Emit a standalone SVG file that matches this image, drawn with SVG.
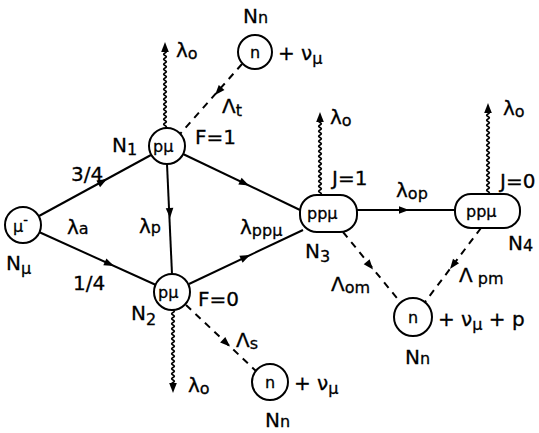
<svg xmlns="http://www.w3.org/2000/svg" xmlns:xlink="http://www.w3.org/1999/xlink" width="539" height="433" viewBox="0 0 539 433">
<style>
.nd{fill:#fff;stroke:#000;stroke-width:2}
.ln{fill:none;stroke:#000;stroke-width:2}
.ds{fill:none;stroke:#000;stroke-width:2;stroke-dasharray:7 6}
.wv{fill:none;stroke:#000;stroke-width:1.8}
text{font-family:"DejaVu Sans","Liberation Sans",sans-serif;font-size:20px;fill:#000;stroke:#000;stroke-width:0.3}
.in{font-size:16px}
.sb{font-size:16px}
</style>
<defs>
<path id="ah" d="M0,0 L-10,-3.8 L-10,3.8 Z" fill="#000"/>
</defs>
<rect width="539" height="433" fill="#fff"/>
<g id="connectors">
<path class="ln" d="M39,216 L151,155"/>
<path class="ln" d="M39,232 L156,285"/>
<path class="ln" d="M167,164 L172,274"/>
<path class="ln" d="M183,154 L300,210"/>
<path class="ln" d="M189,284 L303,230"/>
<path class="ln" d="M357,210 L455,210"/>
<path class="ds" d="M242,64 L180,134"/>
<path class="ds" d="M186,305 L256,371"/>
<path class="ds" d="M343,232 L401,303"/>
<path class="ds" d="M481,228 L425,302"/>
<path class="wv" d="M165,128 q2.5,-1.25 0,-2.5 t0,-2.5 t0,-2.5 t0,-2.5 t0,-2.5 t0,-2.5 t0,-2.5 t0,-2.5 t0,-2.5 t0,-2.5 t0,-2.5 t0,-2.5 t0,-2.5 t0,-2.5 t0,-2.5 t0,-2.5 t0,-2.5 t0,-2.5 t0,-2.5 t0,-2.5 t0,-2.5 t0,-2.5 t0,-2.5 t0,-2.5 t0,-2.5 t0,-2.5 t0,-2.5 t0,-2.5 t0,-2.5 t0,-2.5 t0,-2.5 t0,-2.5"/>
<path class="wv" d="M173,310 q2.5,1.25 0,2.5 t0,2.5 t0,2.5 t0,2.5 t0,2.5 t0,2.5 t0,2.5 t0,2.5 t0,2.5 t0,2.5 t0,2.5 t0,2.5 t0,2.5 t0,2.5 t0,2.5 t0,2.5 t0,2.5 t0,2.5 t0,2.5 t0,2.5 t0,2.5 t0,2.5 t0,2.5 t0,2.5 t0,2.5 t0,2.5 t0,2.5 t0,2.5 t0,2.5 t0,2.5"/>
<path class="wv" d="M320,195 q2.5,-1.25 0,-2.5 t0,-2.5 t0,-2.5 t0,-2.5 t0,-2.5 t0,-2.5 t0,-2.5 t0,-2.5 t0,-2.5 t0,-2.5 t0,-2.5 t0,-2.5 t0,-2.5 t0,-2.5 t0,-2.5 t0,-2.5 t0,-2.5 t0,-2.5 t0,-2.5 t0,-2.5 t0,-2.5 t0,-2.5 t0,-2.5 t0,-2.5 t0,-2.5 t0,-2.5 t0,-2.5 t0,-2.5 t0,-2.5 t0,-2.5 t0,-2.5"/>
<path class="wv" d="M488,194 q2.5,-1.25 0,-2.5 t0,-2.5 t0,-2.5 t0,-2.5 t0,-2.5 t0,-2.5 t0,-2.5 t0,-2.5 t0,-2.5 t0,-2.5 t0,-2.5 t0,-2.5 t0,-2.5 t0,-2.5 t0,-2.5 t0,-2.5 t0,-2.5 t0,-2.5 t0,-2.5 t0,-2.5 t0,-2.5 t0,-2.5 t0,-2.5 t0,-2.5 t0,-2.5 t0,-2.5 t0,-2.5 t0,-2.5 t0,-2.5 t0,-2.5 t0,-2.5 t0,-2.5 t0,-2.5 t0,-2.5"/>
<use xlink:href="#ah" transform="translate(107,179) rotate(-28.8)"/>
<use xlink:href="#ah" transform="translate(114,266) rotate(24.2)"/>
<use xlink:href="#ah" transform="translate(170,218) rotate(87.4)"/>
<use xlink:href="#ah" transform="translate(249,185.5) rotate(25.6)"/>
<use xlink:href="#ah" transform="translate(250,255) rotate(-25.3)"/>
<use xlink:href="#ah" transform="translate(409,210) rotate(0)"/>
<use xlink:href="#ah" transform="translate(215,95) rotate(131.5)"/>
<use xlink:href="#ah" transform="translate(230,346.5) rotate(43.3)"/>
<use xlink:href="#ah" transform="translate(373,269.5) rotate(50.8)"/>
<use xlink:href="#ah" transform="translate(450,269) rotate(127)"/>
<use xlink:href="#ah" transform="translate(165,42) rotate(-90)"/>
<use xlink:href="#ah" transform="translate(173,393) rotate(90)"/>
<use xlink:href="#ah" transform="translate(320,112) rotate(-90)"/>
<use xlink:href="#ah" transform="translate(488,103) rotate(-90)"/>
</g>
<g id="n-mu">
<circle class="nd" cx="23" cy="225" r="18"/>
<text class="in" x="13" y="232">μ<tspan font-size="13" dy="-8">-</tspan></text>
<text x="6" y="270">N<tspan class="sb" dy="4">μ</tspan></text>
</g>
<g id="n1">
<circle class="nd" cx="167" cy="146" r="18"/>
<text class="in" x="153" y="152">pμ</text>
<text x="112" y="152">N<tspan class="sb" dy="3">1</tspan></text>
<text x="195" y="144">F=1</text>
</g>
<g id="n2">
<circle class="nd" cx="172" cy="292" r="18"/>
<text class="in" x="158" y="298">pμ</text>
<text x="131" y="320">N<tspan class="sb" dy="5">2</tspan></text>
<text x="198" y="306">F=0</text>
</g>
<g id="n3">
<rect class="nd" x="300" y="195" width="57" height="37" rx="17"/>
<text class="in" x="307" y="219">ppμ</text>
<text x="305" y="258">N<tspan class="sb" dy="4">3</tspan></text>
<text x="332" y="185">J=1</text>
</g>
<g id="n4">
<rect class="nd" x="455" y="194" width="65" height="34" rx="16"/>
<text class="in" x="466" y="217">ppμ</text>
<text x="508" y="250">N<tspan class="sb" dy="1">4</tspan></text>
<text x="500" y="188" font-size="18">J=0</text>
</g>
<g id="n-top">
<circle class="nd" cx="255" cy="52" r="17"/>
<text class="in" x="250" y="58">n</text>
<text x="243" y="23">N<tspan class="sb">n</tspan></text>
<text x="278" y="60">+ ν<tspan class="sb" dy="4">μ</tspan></text>
</g>
<g id="n-mid">
<circle class="nd" cx="413" cy="317" r="19"/>
<text class="in" x="408" y="323">n</text>
<text x="405" y="364">N<tspan class="sb">n</tspan></text>
<text x="438" y="326">+ ν<tspan class="sb" dy="4">μ</tspan><tspan dy="-4"> + p</tspan></text>
</g>
<g id="n-bot">
<circle class="nd" cx="270" cy="382" r="18"/>
<text class="in" x="265" y="388">n</text>
<text x="265" y="427">N<tspan class="sb">n</tspan></text>
<text x="294" y="390">+ ν<tspan class="sb" dy="4">μ</tspan></text>
</g>
<g id="labels">
<text x="176" y="57">λ<tspan class="sb" dy="2">o</tspan></text>
<text x="330" y="124">λ<tspan class="sb" dy="2">o</tspan></text>
<text x="503" y="115">λ<tspan class="sb" dy="2">o</tspan></text>
<text x="188" y="392">λ<tspan class="sb" dy="2">o</tspan></text>
<text x="222" y="113">Λ<tspan class="sb" dy="3">t</tspan></text>
<text x="71" y="181" font-size="17">3/4</text>
<text x="73" y="290" font-size="17">1/4</text>
<text x="67" y="234">λ<tspan class="sb">a</tspan></text>
<text x="139" y="233">λ<tspan class="sb">p</tspan></text>
<text x="240" y="234">λ<tspan class="sb" dy="2">ppμ</tspan></text>
<text x="396" y="197">λ<tspan class="sb" dy="2">op</tspan></text>
<text x="236" y="347">Λ<tspan class="sb" dy="2">s</tspan></text>
<text x="331" y="291">Λ<tspan class="sb" dy="2">om</tspan></text>
<text x="459" y="282">Λ<tspan class="sb" dy="2"> pm</tspan></text>
</g>
</svg>
